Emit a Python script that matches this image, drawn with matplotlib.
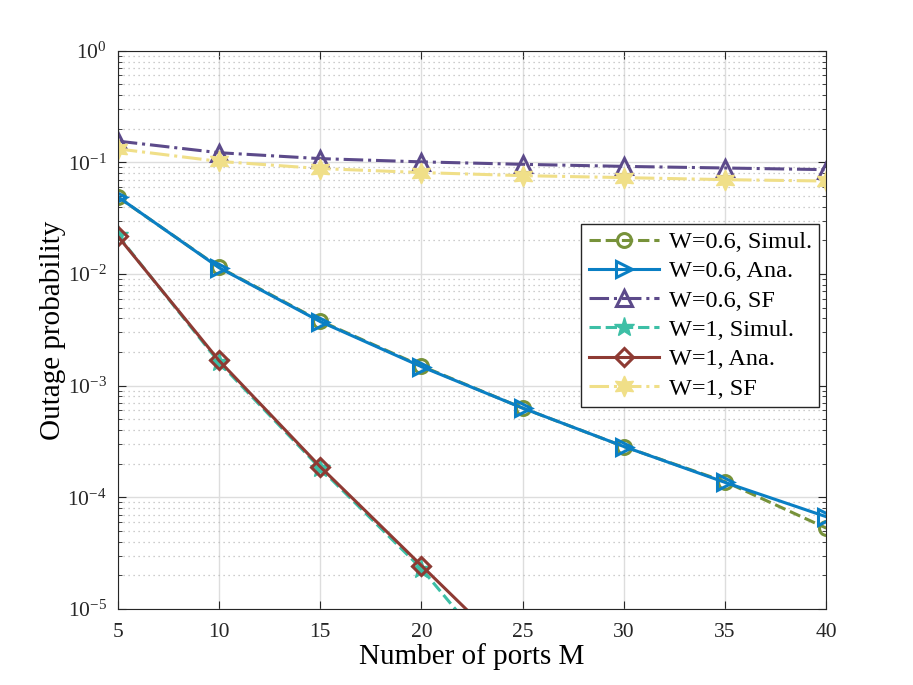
"""Outage probability vs number of ports M (log scale)."""
import matplotlib
matplotlib.use("Agg")
import matplotlib.pyplot as plt

M = [5, 10, 15, 20, 25, 30, 35, 40]

w06_simul = [0.049, 0.0115, 3.8e-3, 1.5e-3, 6.3e-4, 2.85e-4, 1.38e-4, 5.3e-5]
w06_ana = [0.0492, 0.0114, 3.75e-3, 1.48e-3, 6.3e-4, 2.85e-4, 1.36e-4, 6.7e-5]
w06_sf = [0.155, 0.122, 0.108, 0.101, 0.096, 0.092, 0.089, 0.086]
w1_simul = [0.0222, 1.62e-3, 1.82e-4, 2.3e-5, 1.9e-6, 1.5e-7, 1.2e-8, 1e-9]
w1_ana = [0.0218, 1.68e-3, 1.88e-4, 2.45e-5, 3.2e-6, 4e-7, 5e-8, 6e-9]
w1_sf = [0.132, 0.102, 0.088, 0.081, 0.076, 0.073, 0.070, 0.068]

plt.rcParams['font.family'] = ['Liberation Serif', 'DejaVu Serif']
plt.rcParams['mathtext.fontset'] = 'custom'
plt.rcParams['mathtext.rm'] = 'Liberation Serif'
plt.rcParams['mathtext.it'] = 'Liberation Serif:italic'
plt.rcParams['axes.unicode_minus'] = False

fig = plt.figure(figsize=(9.13, 6.85), dpi=100)
ax = fig.add_axes([0.129, 0.111, 0.776, 0.815])

lw = 2.2
ms = 11
ax.plot(M, w06_simul, '--', color='#77923a', lw=lw, marker='o', ms=ms - 1,
        mfc='none', mew=2.2, label='W=0.6, Simul.')
ax.plot(M, w06_ana, '-', color='#0a7fc4', lw=lw, marker='>', ms=ms,
        mfc='none', mew=2.2, label='W=0.6, Ana.')
ax.plot(M, w06_sf, '-.', color='#5c4a8a', lw=lw, marker='^', ms=ms,
        mfc='none', mew=2.2, label='W=0.6, SF')
ax.plot(M, w1_simul, '--', color='#3dbfa6', lw=lw, marker='*', ms=ms + 4,
        label='W=1, Simul.')
ax.plot(M, w1_ana, '-', color='#8e3a33', lw=lw, marker='D', ms=ms - 2,
        mfc='none', mew=2.2, label='W=1, Ana.')
ax.plot(M, w1_sf, '-.', color='#f0df88', lw=lw, marker=(6, 1, 0), ms=ms + 4,
        label='W=1, SF')

ax.set_yscale('log')
ax.set_xlim(5, 40)
ax.set_ylim(1e-5, 1)
ax.set_xticks(M)
ax.set_xticklabels([str(m) for m in M])
ax.tick_params(axis='both', which='both', direction='in', top=True, right=True,
               labelsize=15.5, colors='#262626')
ax.tick_params(axis='x', which='major', pad=10)
ax.tick_params(axis='y', which='major', pad=8)
ax.tick_params(which='major', length=6)
ax.tick_params(which='minor', length=3)
ax.grid(True, which='major', color='#dddddd', lw=1)
ax.grid(True, which='minor', axis='y', color='#bdbdbd', lw=0.9, ls=(0, (1, 3)))
for s in ax.spines.values():
    s.set_color('#262626')

ax.set_xlabel('Number of ports M', fontsize=21, labelpad=1)
ax.set_ylabel('Outage probability', fontsize=21, labelpad=1)

leg = ax.legend(loc='upper right', bbox_to_anchor=(0.99, 0.69), fontsize=17.5,
                fancybox=False, edgecolor='#262626', framealpha=1,
                borderaxespad=0, handlelength=2.9, labelspacing=0.3,
                borderpad=0.3, handletextpad=0.4)
leg.get_frame().set_linewidth(1)

fig.savefig('out.png', dpi=100)
